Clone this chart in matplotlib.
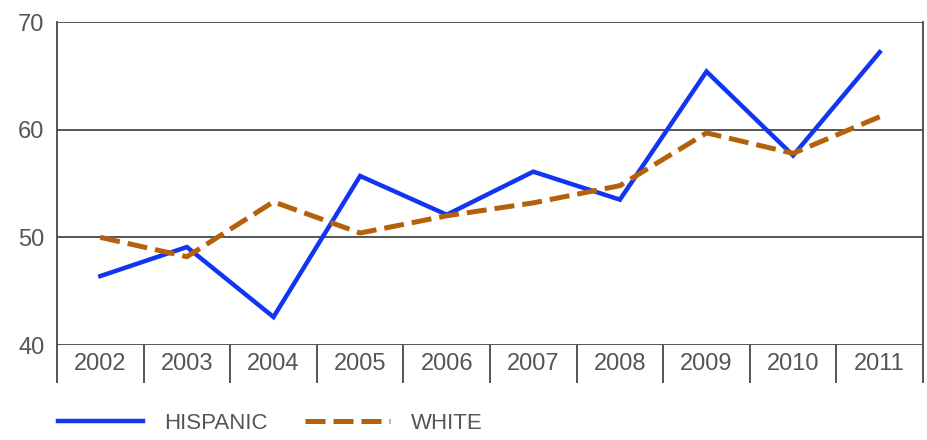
import matplotlib
matplotlib.use("Agg")
import matplotlib.pyplot as plt
from matplotlib import font_manager

years = ["2002", "2003", "2004", "2005", "2006", "2007", "2008", "2009", "2010", "2011"]
hispanic = [46.4, 49.1, 42.6, 55.7, 52.1, 56.1, 53.5, 65.4, 57.6, 67.2]
white = [50.0, 48.2, 53.3, 50.4, 52.0, 53.2, 54.8, 59.7, 57.8, 61.2]
yticks = [40, 50, 60, 70]

# narrow font if there is one, else Arial-like
names = {f.name for f in font_manager.fontManager.ttflist}
if 'Liberation Sans Narrow' in names:
    fam, fs = 'Liberation Sans Narrow', 20
else:
    fam, fs = 'Liberation Sans', 17
plt.rcParams['font.family'] = [fam, 'DejaVu Sans']
grey = '#555555'

fig = plt.figure(figsize=(9.27, 4.40), dpi=100)
ax = fig.add_axes([57 / 927, 1 - 345 / 440, (923 - 57) / 927, (345 - 22) / 440])

x = list(range(len(years)))
ax.plot(x, hispanic, color='#1235F2', lw=3.2, solid_joinstyle='miter', label='HISPANIC', zorder=3)
ax.plot(x, white, color='#B5600A', lw=3.6, dashes=(4, 1.6), label='WHITE', zorder=4)

ax.set_xlim(-0.5, len(years) - 0.5)
ax.set_ylim(40, 70)
ax.set_yticks(yticks)
ax.set_yticklabels([str(t) for t in yticks], fontsize=fs, color=grey)
ax.tick_params(axis='y', length=0, pad=9)
ax.set_xticks([])
for t in yticks:
    ax.axhline(t, color=grey, lw=1.4, zorder=1)
for s in ['top', 'bottom']:
    ax.spines[s].set_visible(False)
for s in ['left', 'right']:
    ax.spines[s].set_color(grey)
    ax.spines[s].set_linewidth(1.4)

# category boxes under the plot
box_h = 37 / 323
for i in range(len(years) + 1):
    ax.plot([i - 0.5, i - 0.5], [0, -box_h], transform=ax.get_xaxis_transform(),
            color=grey, lw=1.4, clip_on=False)
for i, yr in enumerate(years):
    ax.text(i, -box_h / 2, yr, transform=ax.get_xaxis_transform(), ha='center', va='center',
            fontsize=fs, color=grey)

leg = fig.legend(loc='center left', bbox_to_anchor=(0.063, 1 - 423 / 440), ncol=2, frameon=False,
                 fontsize=fs - 1, handlelength=3.8, columnspacing=1.7, handletextpad=0.95,
                 borderaxespad=0, borderpad=0)
for txt in leg.get_texts():
    txt.set_color(grey)

fig.savefig('out.png', dpi=100)
